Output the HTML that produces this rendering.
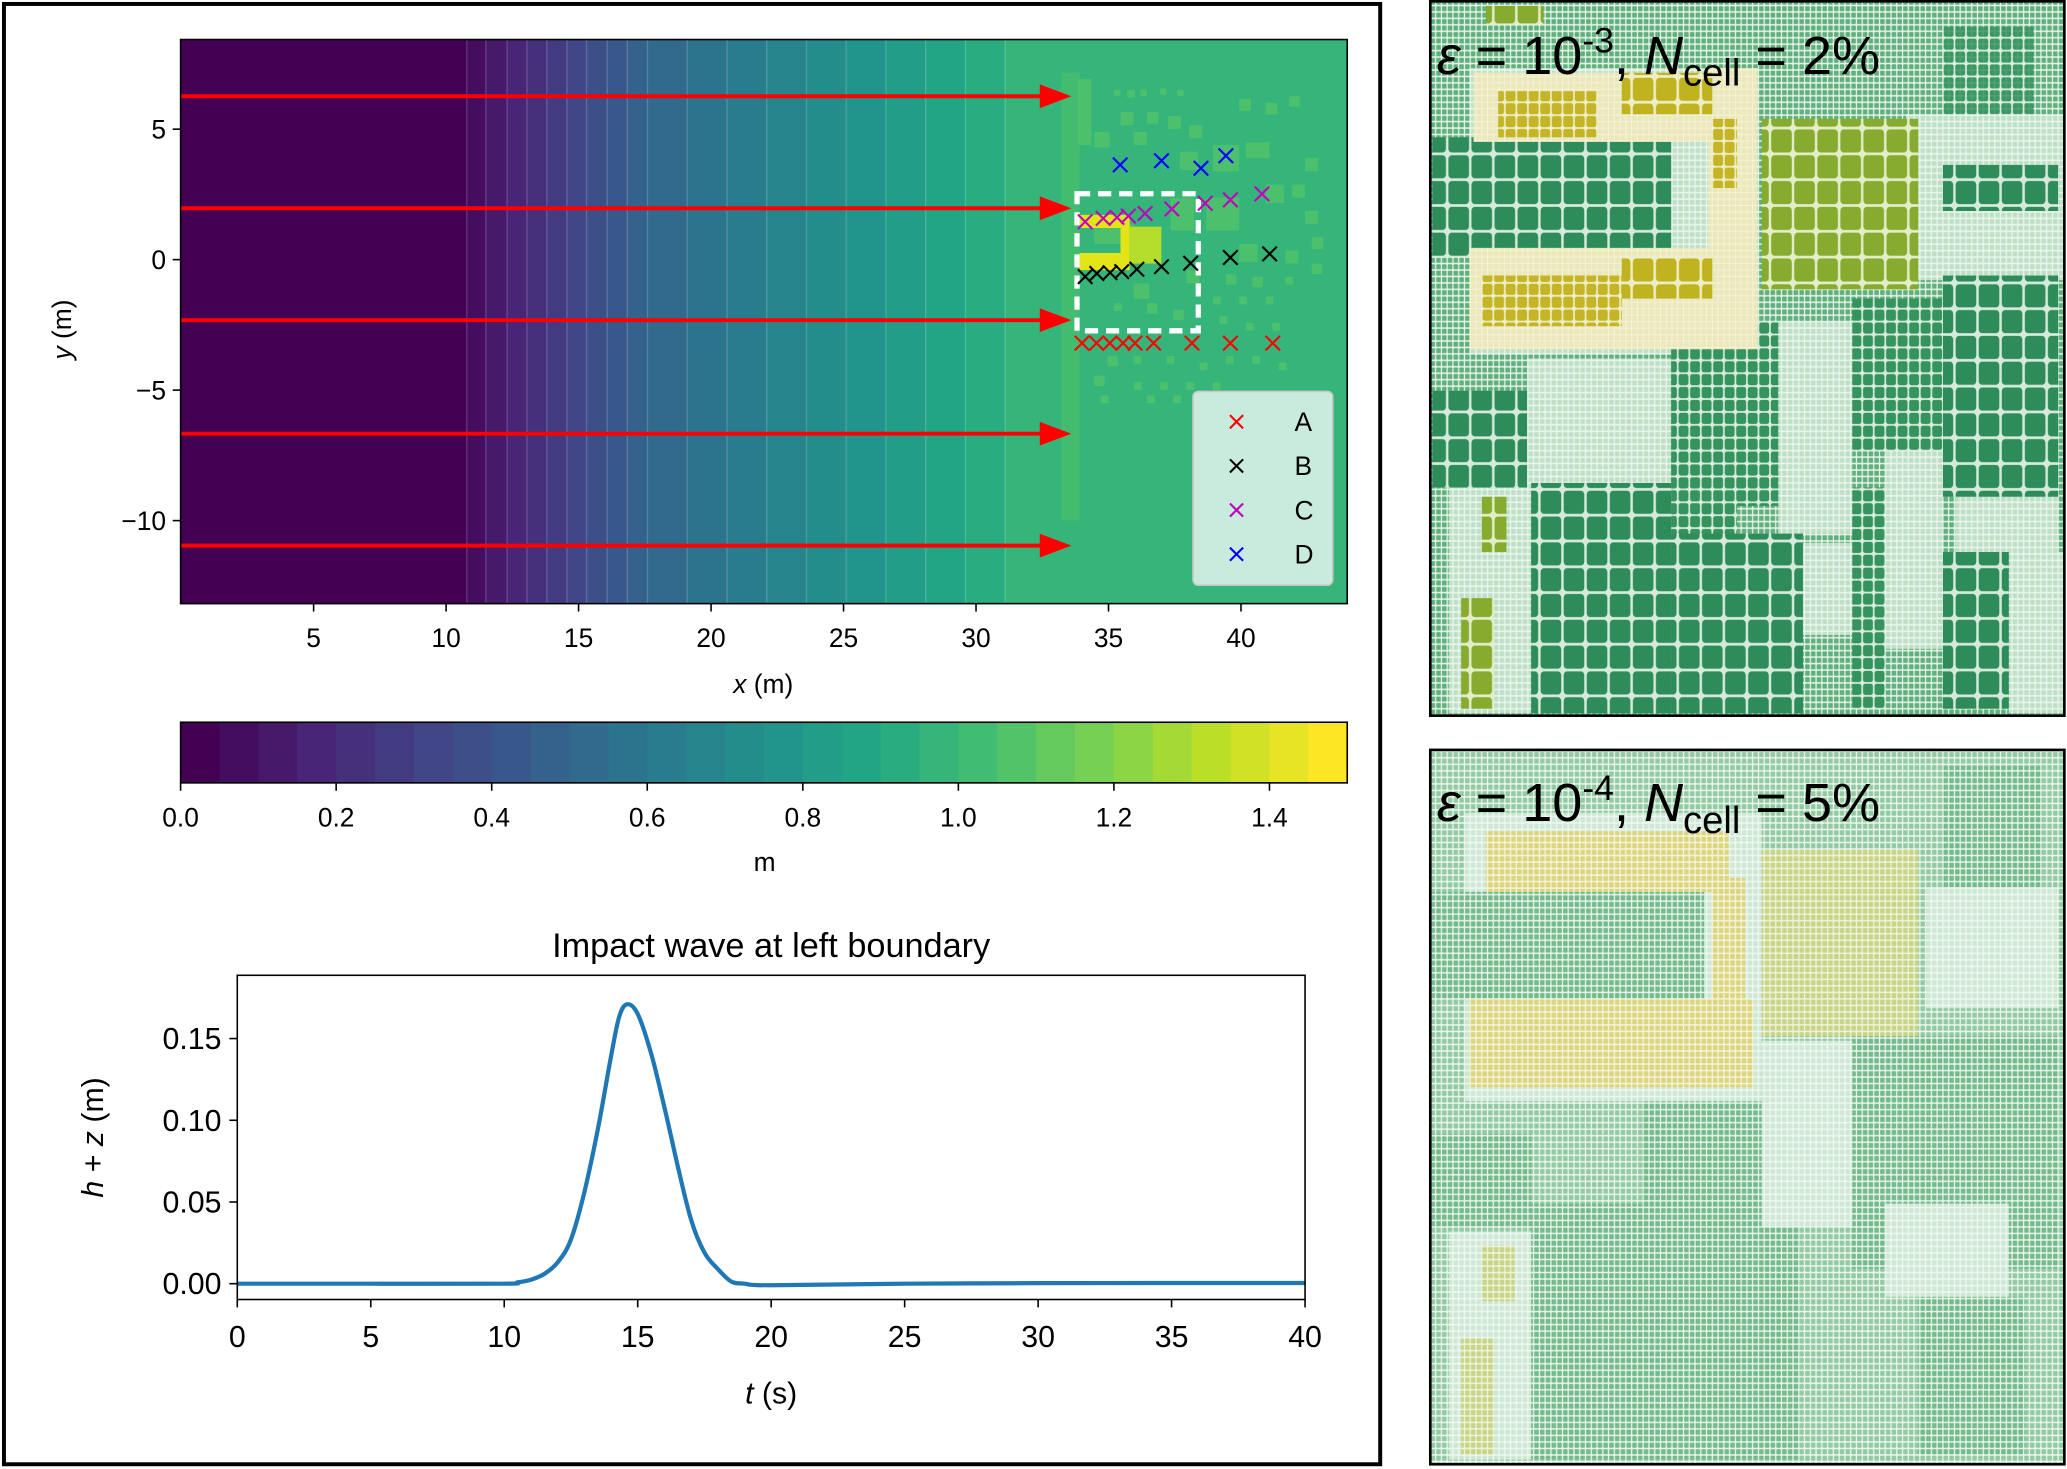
<!DOCTYPE html>
<html><head><meta charset="utf-8"><style>
html,body{margin:0;padding:0;background:#fff;}
svg{display:block;font-family:"Liberation Sans",sans-serif;}
</style></head><body>
<svg id="fig" xmlns="http://www.w3.org/2000/svg" width="2067" height="1469" viewBox="0 0 1568 1114.6" preserveAspectRatio="none">
<defs>
<clipPath id="mapclip"><rect x="137" y="30" width="885" height="428"/></clipPath>
<clipPath id="lineclip"><rect x="180" y="740" width="810" height="246"/></clipPath>
<pattern id="fine" width="14" height="14" patternUnits="userSpaceOnUse"><rect width="14" height="14" fill="#e4f2e7"/><rect x="1.5" y="1.5" width="11" height="11" rx="2" fill="#5fb07c"/></pattern>
<pattern id="pale" width="14" height="14" patternUnits="userSpaceOnUse"><rect width="14" height="14" fill="#e9f5eb"/><rect x="1.5" y="1.5" width="11" height="11" rx="2" fill="#bfe0c8"/></pattern>
<pattern id="dark" width="56" height="56" patternUnits="userSpaceOnUse"><rect width="56" height="56" fill="#d5eadb"/><rect x="3" y="3" width="50" height="50" rx="8" fill="#2e8c5a"/></pattern>
<pattern id="med" width="28" height="28" patternUnits="userSpaceOnUse"><rect width="28" height="28" fill="#d8ecdd"/><rect x="2" y="2" width="24" height="24" rx="5" fill="#35935e"/></pattern>
<pattern id="yel" width="28" height="28" patternUnits="userSpaceOnUse"><rect width="28" height="28" fill="#efedc4"/><rect x="2" y="2" width="24" height="24" rx="5" fill="#c4b526"/></pattern>
<pattern id="yelbig" width="56" height="56" patternUnits="userSpaceOnUse"><rect width="56" height="56" fill="#efedc4"/><rect x="3" y="3" width="50" height="50" rx="8" fill="#c0b320"/></pattern>
<pattern id="olive" width="56" height="56" patternUnits="userSpaceOnUse"><rect width="56" height="56" fill="#e3eec8"/><rect x="3" y="3" width="50" height="50" rx="8" fill="#86ab2e"/></pattern>
<pattern id="paleyel" width="14" height="14" patternUnits="userSpaceOnUse"><rect width="14" height="14" fill="#f5f4da"/><rect x="1" y="1" width="12" height="12" fill="#ebe8bb"/></pattern>
<pattern id="fine2" width="14" height="14" patternUnits="userSpaceOnUse"><rect width="14" height="14" fill="#ebf6ed"/><rect x="1.5" y="1.5" width="11" height="11" rx="2" fill="#92caa3"/></pattern>
<pattern id="fine2d" width="14" height="14" patternUnits="userSpaceOnUse"><rect width="14" height="14" fill="#e8f4ea"/><rect x="1.5" y="1.5" width="11" height="11" rx="2" fill="#74bb8c"/></pattern>
<pattern id="pale2" width="14" height="14" patternUnits="userSpaceOnUse"><rect width="14" height="14" fill="#eef7ef"/><rect x="1.5" y="1.5" width="11" height="11" rx="2" fill="#cfe8d6"/></pattern>
<pattern id="paleyel2" width="14" height="14" patternUnits="userSpaceOnUse"><rect width="14" height="14" fill="#f5f4d8"/><rect x="1.5" y="1.5" width="11" height="11" rx="2" fill="#dcd580"/></pattern>
<pattern id="paleolive2" width="14" height="14" patternUnits="userSpaceOnUse"><rect width="14" height="14" fill="#f0f3d8"/><rect x="1.5" y="1.5" width="11" height="11" rx="2" fill="#c6d588"/></pattern>
</defs>

<rect x="3" y="3" width="1044" height="1108" fill="#fff" stroke="#000" stroke-width="3"/>

<g id="map"></g>
<g id="cbar"></g>
<g id="line"></g>

<!-- right top mesh panel -->
<svg x="1085" y="1" width="481" height="542" viewBox="15 5 1540 1550" preserveAspectRatio="none">
<rect x="15" y="5" width="1540" height="1550" fill="url(#fine)"/>
<g fill="url(#pale)">
<rect x="110" y="150" width="700" height="620"/><rect x="1170" y="250" width="390" height="360"/><rect x="250" y="780" width="350" height="280"/><rect x="860" y="700" width="180" height="460"/><rect x="1120" y="980" width="140" height="430"/><rect x="1290" y="1040" width="250" height="160"/><rect x="60" y="1060" width="200" height="490"/><rect x="1420" y="1200" width="135" height="350"/><rect x="920" y="1180" width="120" height="200"/>
</g>
<g>
<rect x="20" y="300" width="580" height="260" fill="url(#dark)"/>
<rect x="1260" y="60" width="220" height="190" fill="url(#med)" opacity="0.85"/>
<rect x="1260" y="360" width="280" height="100" fill="url(#dark)"/>
<rect x="1260" y="600" width="280" height="480" fill="url(#dark)"/>
<rect x="1040" y="650" width="220" height="330" fill="url(#med)"/>
<rect x="600" y="700" width="160" height="850" fill="url(#med)"/>
<rect x="760" y="700" width="100" height="400" fill="url(#med)"/>
<rect x="260" y="1050" width="340" height="500" fill="url(#dark)"/>
<rect x="600" y="1160" width="320" height="390" fill="url(#dark)"/>
<rect x="20" y="850" width="230" height="210" fill="url(#dark)"/>
<rect x="1260" y="1200" width="160" height="340" fill="url(#dark)"/>
<rect x="1040" y="1060" width="80" height="480" fill="url(#med)"/>
</g>
<g>
<rect x="120" y="160" width="640" height="150" fill="url(#paleyel)"/>
<rect x="690" y="150" width="120" height="560" fill="url(#paleyel)"/>
<rect x="110" y="540" width="700" height="220" fill="url(#paleyel)"/>
<rect x="180" y="200" width="240" height="100" fill="url(#yel)"/>
<rect x="480" y="160" width="220" height="90" fill="url(#yelbig)"/>
<rect x="700" y="260" width="60" height="150" fill="url(#yel)"/>
<rect x="140" y="600" width="340" height="110" fill="url(#yel)"/>
<rect x="480" y="560" width="220" height="90" fill="url(#yelbig)"/>
<rect x="820" y="260" width="380" height="370" fill="url(#olive)"/>
<rect x="90" y="1300" width="80" height="240" fill="url(#olive)"/>
<rect x="140" y="1080" width="60" height="120" fill="url(#olive)"/>
<rect x="150" y="15" width="140" height="40" fill="url(#olive)"/>
</g>
</svg>
<rect x="1085" y="1" width="481" height="542" fill="none" stroke="#000" stroke-width="2"/>
<text x="1090" y="56" font-size="41" fill="#000"><tspan font-style="italic">ε</tspan> = 10<tspan font-size="27" dy="-16">-3</tspan><tspan dy="16">, </tspan><tspan font-style="italic">N</tspan><tspan font-size="29" dy="9">cell</tspan><tspan dy="-9"> = 2%</tspan></text>

<!-- right bottom mesh panel -->
<svg x="1085" y="569" width="481" height="542" viewBox="15 25 1540 1535" preserveAspectRatio="none">
<rect x="15" y="25" width="1540" height="1535" fill="url(#fine2)"/>
<g fill="url(#fine2d)">
<rect x="1040" y="640" width="500" height="500"/><rect x="530" y="700" width="380" height="850"/><rect x="260" y="1000" width="270" height="550"/><rect x="1260" y="60" width="240" height="260"/><rect x="20" y="850" width="240" height="200"/><rect x="1200" y="1200" width="260" height="340"/>
</g>
<g fill="url(#pale2)">
<rect x="100" y="160" width="720" height="620"/><rect x="820" y="650" width="220" height="400"/><rect x="1120" y="1000" width="300" height="200"/><rect x="1220" y="320" width="320" height="260"/><rect x="60" y="1060" width="200" height="490"/>
</g>
<rect x="20" y="330" width="660" height="230" fill="url(#fine2d)"/>
<g>
<rect x="150" y="200" width="590" height="130" fill="url(#paleyel2)"/>
<rect x="700" y="300" width="80" height="260" fill="url(#paleyel2)"/>
<rect x="110" y="560" width="690" height="190" fill="url(#paleyel2)"/>
<rect x="820" y="240" width="380" height="400" fill="url(#paleolive2)"/>
<rect x="90" y="1290" width="80" height="250" fill="url(#paleolive2)"/>
<rect x="140" y="1090" width="80" height="120" fill="url(#paleolive2)"/>
</g>
</svg>
<rect x="1085" y="569" width="481" height="542" fill="none" stroke="#000" stroke-width="2"/>
<text x="1090" y="623" font-size="41" fill="#000"><tspan font-style="italic">ε</tspan> = 10<tspan font-size="27" dy="-16">-4</tspan><tspan dy="16">, </tspan><tspan font-style="italic">N</tspan><tspan font-size="29" dy="9">cell</tspan><tspan dy="-9"> = 5%</tspan></text>
</svg>

<script>
// ---- data ----
const bandEdges = [10.78, 11.5, 12.3, 13.05, 13.8, 14.56, 15.3, 16.08, 16.84, 17.6, 19.1, 20.6, 22.1, 23.6, 25.1, 26.6, 28.1, 29.6, 31.1];
const arrowY = [6.26, 1.97, -2.32, -6.67, -10.96];
const gaugeA_x = [34.0, 34.55, 35.05, 35.55, 36.0, 36.7, 38.15, 39.6, 41.2];
const gaugeA_y = [-3.2, -3.2, -3.2, -3.2, -3.2, -3.2, -3.2, -3.2, -3.2];
const gaugeB_x = [34.12, 34.56, 35.06, 35.5, 36.07, 37.0, 38.1, 39.6, 41.08];
const gaugeB_y = [-0.65, -0.53, -0.5, -0.46, -0.37, -0.27, -0.14, 0.08, 0.22];
const gaugeC_x = [34.12, 34.8, 35.32, 35.75, 36.38, 37.39, 38.65, 39.6, 40.79];
const gaugeC_y = [1.45, 1.58, 1.62, 1.67, 1.77, 1.94, 2.16, 2.29, 2.52];
const gaugeD_x = [35.44, 37.0, 38.49, 39.43];
const gaugeD_y = [3.63, 3.79, 3.5, 3.98];
const mapXTicks = [5, 10, 15, 20, 25, 30, 35, 40];
const mapYTicks = [5, 0, -5, -10];
const cbarTicks = [0.0, 0.2, 0.4, 0.6, 0.8, 1.0, 1.2, 1.4];
const cbarLevels = 30;
const waveT = [0, 5, 10, 10.5, 11, 11.5, 12, 12.5, 13, 13.5, 14, 14.3, 14.6, 15, 15.5, 16, 16.5, 17, 17.5, 18, 18.5, 19, 20, 25, 30, 35, 40];
const waveH = [0, 0, 0, 0.0008, 0.0024, 0.006, 0.013, 0.027, 0.056, 0.094, 0.139, 0.163, 0.171, 0.165, 0.141, 0.108, 0.072, 0.039, 0.019, 0.009, 0.0014, 0, -0.001, 0, 0.0003, 0.0004, 0.0004];
const lineXTicks = [0, 5, 10, 15, 20, 25, 30, 35, 40];
const lineYTicks = [0, 0.05, 0.10, 0.15];

const NS = "http://www.w3.org/2000/svg";
function mk(tag, attrs, parent) { const e = document.createElementNS(NS, tag); for (const k in attrs) e.setAttribute(k, attrs[k]); parent.appendChild(e); return e; }
const vir = ["#440154","#482475","#414487","#355f8d","#2a788e","#21918c","#22a884","#44bf70","#7ad151","#bddf26","#fde725"];
function viridis(t){ t=Math.max(0,Math.min(1,t)); const p=t*10, i=Math.min(9,Math.floor(p)), f=p-i;
  const a=vir[i], b=vir[i+1]; const c=[1,3,5].map(j=>Math.round(parseInt(a.substr(j,2),16)*(1-f)+parseInt(b.substr(j,2),16)*f));
  return "rgb("+c.join(",")+")"; }

// ---- map ----
const mx = x => 137.4 + x * 20.1;
const my = y => 197 - y * 19.8;
const map = document.getElementById('map');
const mg = mk('g', {'clip-path': 'url(#mapclip)'}, map);
let el = mk('rect', {x: 137, y: 30, width: 885, height: 428, fill: viridis(0)}, mg);


bandEdges.forEach((e, k) => {
  const x1 = mx(e), x2 = k + 1 < bandEdges.length ? mx(bandEdges[k + 1]) : 1022;
  const b = mk('rect', {x: x1, y: 30, width: x2 - x1 + 0.5, height: 428, fill: viridis((k + 1) / (cbarLevels - 1))}, mg);
  
  
  const l = mk('line', {x1: x1, x2: x1, y1: 30, y2: 458, stroke: '#ffffff', 'stroke-opacity': 0.18, 'stroke-width': 1}, mg);
  
  
});
const beach = mk('rect', {x: 805, y: 55, width: 14, height: 340, fill: '#5ec962', opacity: 0.35}, mg);


const bld = [[818,60,10,50],[845,68,5,5],[855,68,6,6],[865,68,5,5],[880,67,5,5],[893,68,5,5],[850,85,10,10],[870,85,9,9],[886,88,10,10],[902,95,10,10],[940,75,9,9],[960,78,9,9],[978,73,8,8],[830,100,12,12],[860,100,10,10],[895,115,14,14],[920,110,20,20],[945,108,18,12],[990,120,10,10],[980,140,10,10],[960,140,14,14],[830,170,30,15],[888,150,18,25],[915,150,25,25],[990,160,10,10],[995,180,9,9],[940,185,14,14],[975,190,10,10],[995,200,8,8],[900,205,10,10],[930,208,8,8],[950,210,8,8],[975,210,6,6],[860,215,12,12],[845,230,6,6],[870,230,8,8],[890,235,8,8],[920,225,6,6],[940,225,6,6],[960,225,6,6],[925,240,6,6],[945,245,6,6],[965,245,6,6],[840,270,8,8],[860,270,6,6],[885,270,6,6],[910,275,6,6],[930,270,6,6],[950,270,6,6],[970,275,6,6],[830,285,8,8],[860,290,6,6],[880,290,6,6],[900,290,6,6],[920,290,6,6],[835,300,6,6],[870,300,6,6],[890,300,6,6]];
bld.forEach(r => {
  const b = mk('rect', {x: r[0], y: r[1], width: r[2], height: r[3], rx: 1, fill: '#5ec962', opacity: 0.55}, mg);
  
  
});
const ybld = mk('path', {d: 'M819,163 H857 V205 H819 V192 H850 V173 H819 Z', fill: '#e3e418'}, mg);


const ybld2 = mk('rect', {x: 857, y: 172, width: 24, height: 28, fill: '#b5dd2b'}, mg);


arrowY.forEach(v => {
  const y = my(v), xe = mx(33.6);
  const a = mk('line', {x1: 137, x2: xe - 20, y1: y, y2: y, stroke: '#ff0000', 'stroke-width': 3}, mg);
  
  
  const h = mk('polygon', {points: (xe - 24) + ',' + (y - 9) + ' ' + xe + ',' + y + ' ' + (xe - 24) + ',' + (y + 9), fill: '#ff0000'}, mg);
  
  
});
const dbox = mk('rect', {x: 817, y: 147, width: 92, height: 104, fill: 'none', stroke: '#fff', 'stroke-width': 4, 'stroke-dasharray': '10,6'}, mg);


function cross(g, x, y, c, s) {
  return mk('path', {d: `M${x-s},${y-s}L${x+s},${y+s}M${x-s},${y+s}L${x+s},${y-s}`, stroke: c, 'stroke-width': 1.6, fill: 'none'}, g);
}
const gauges = [[gaugeA_x, gaugeA_y, '#ff0000', 'A'], [gaugeB_x, gaugeB_y, '#000000', 'B'], [gaugeC_x, gaugeC_y, '#bf00bf', 'C'], [gaugeD_x, gaugeD_y, '#0000ff', 'D']];
gauges.forEach(g => {
  g[0].forEach((x, i) => {
    const p = cross(mg, mx(x), my(g[1][i]), g[2], 5.5);
    
    
  });
});
const leg = mk('g', {}, map);


mk('rect', {x: 905, y: 297, width: 106, height: 147, rx: 4, fill: '#e3f5ee', 'fill-opacity': 0.85, stroke: '#c8c8c8', 'stroke-width': 1.2}, leg);
gauges.forEach((g, i) => {
  const y = 320 + i * 33.5;
  const p = cross(leg, 938, y, g[2], 5);
  
  
  const t = mk('text', {x: 982, y: y + 7, 'font-size': 20}, leg);
  t.textContent = g[3];
  
  
});
let fr = mk('rect', {x: 137, y: 30, width: 885, height: 428, fill: 'none', stroke: '#000', 'stroke-width': 1.2}, map);


mapXTicks.forEach(v => {
  const x = mx(v);
  const t = mk('line', {x1: x, x2: x, y1: 458, y2: 464, stroke: '#000', 'stroke-width': 1.2}, map);
  
  
  const l = mk('text', {x: x, y: 491, 'font-size': 20, 'text-anchor': 'middle'}, map);
  l.textContent = v;
  
  
});
mapYTicks.forEach(v => {
  const y = my(v);
  const t = mk('line', {x1: 131, x2: 137, y1: y, y2: y, stroke: '#000', 'stroke-width': 1.2}, map);
  
  
  const l = mk('text', {x: 126, y: y + 7, 'font-size': 20, 'text-anchor': 'end'}, map);
  l.textContent = v < 0 ? '\u2212' + Math.abs(v) : v;
  
  
});
let xl = mk('text', {x: 579, y: 526, 'font-size': 20, 'text-anchor': 'middle'}, map);
xl.innerHTML = '<tspan font-style="italic">x</tspan> (m)';


let yl = mk('text', {x: 0, y: 0, 'font-size': 20, 'text-anchor': 'middle', transform: 'translate(54,250) rotate(-90)'}, map);
yl.innerHTML = '<tspan font-style="italic">y</tspan> (m)';



// ---- colorbar ----
const cb = document.getElementById('cbar');
const cx = v => 137 + v * 590;
for (let i = 0; i < cbarLevels; i++) {
  const r = mk('rect', {x: cx(i * 0.05), y: 548, width: 590 * 0.05 + 0.4, height: 46, fill: viridis(i / (cbarLevels - 1))}, cb);
  
  
}
fr = mk('rect', {x: 137, y: 548, width: 885, height: 46, fill: 'none', stroke: '#000', 'stroke-width': 1.2}, cb);


cbarTicks.forEach(v => {
  const x = cx(v);
  const t = mk('line', {x1: x, x2: x, y1: 594, y2: 600, stroke: '#000', 'stroke-width': 1.2}, cb);
  
  
  const l = mk('text', {x: x, y: 627, 'font-size': 20, 'text-anchor': 'middle'}, cb);
  l.textContent = v.toFixed(1);
  
  
});
let cl = mk('text', {x: 580, y: 661, 'font-size': 20, 'text-anchor': 'middle'}, cb);
cl.textContent = 'm';



// ---- line plot ----
const ln = document.getElementById('line');
const lx = t => 180 + t * 20.25;
const ly = h => 974 - h * 1240;
let tt = mk('text', {x: 585, y: 726, 'font-size': 26, 'text-anchor': 'middle'}, ln);
tt.textContent = 'Impact wave at left boundary';


const lg = mk('g', {'clip-path': 'url(#lineclip)'}, ln);
// smooth curve (Catmull-Rom) through data points
const P = waveT.map((t, i) => [lx(t), ly(waveH[i])]);
let d = 'M' + P[0][0].toFixed(1) + ',' + P[0][1].toFixed(1);
for (let i = 0; i < P.length - 1; i++) {
  const p0 = P[Math.max(0, i - 1)], p1 = P[i], p2 = P[i + 1], p3 = P[Math.min(P.length - 1, i + 2)];
  const c1 = [p1[0] + (p2[0] - p0[0]) / 6, p1[1] + (p2[1] - p0[1]) / 6];
  const c2 = [p2[0] - (p3[0] - p1[0]) / 6, p2[1] - (p3[1] - p1[1]) / 6];
  d += 'C' + c1.map(v => v.toFixed(1)).join(',') + ' ' + c2.map(v => v.toFixed(1)).join(',') + ' ' + p2.map(v => v.toFixed(1)).join(',');
}
const path = mk('path', {d: d, fill: 'none', stroke: '#1f77b4', 'stroke-width': 3.2, 'stroke-linejoin': 'round'}, lg);


fr = mk('rect', {x: 180, y: 740, width: 810, height: 246, fill: 'none', stroke: '#000', 'stroke-width': 1.2}, ln);


lineXTicks.forEach(v => {
  const x = lx(v);
  const t = mk('line', {x1: x, x2: x, y1: 986, y2: 992, stroke: '#000', 'stroke-width': 1.2}, ln);
  
  
  const l = mk('text', {x: x, y: 1022, 'font-size': 23, 'text-anchor': 'middle'}, ln);
  l.textContent = v;
  
  
});
lineYTicks.forEach(v => {
  const y = ly(v);
  const t = mk('line', {x1: 174, x2: 180, y1: y, y2: y, stroke: '#000', 'stroke-width': 1.2}, ln);
  
  
  const l = mk('text', {x: 168, y: y + 8, 'font-size': 23, 'text-anchor': 'end'}, ln);
  l.textContent = v.toFixed(2);
  
  
});
let txl = mk('text', {x: 585, y: 1065, 'font-size': 23, 'text-anchor': 'middle'}, ln);
txl.innerHTML = '<tspan font-style="italic">t</tspan> (s)';


let tyl = mk('text', {x: 0, y: 0, 'font-size': 23, 'text-anchor': 'middle', transform: 'translate(78,863) rotate(-90)'}, ln);
tyl.innerHTML = '<tspan font-style="italic">h</tspan> + <tspan font-style="italic">z</tspan> (m)';


</script>
</body></html>
